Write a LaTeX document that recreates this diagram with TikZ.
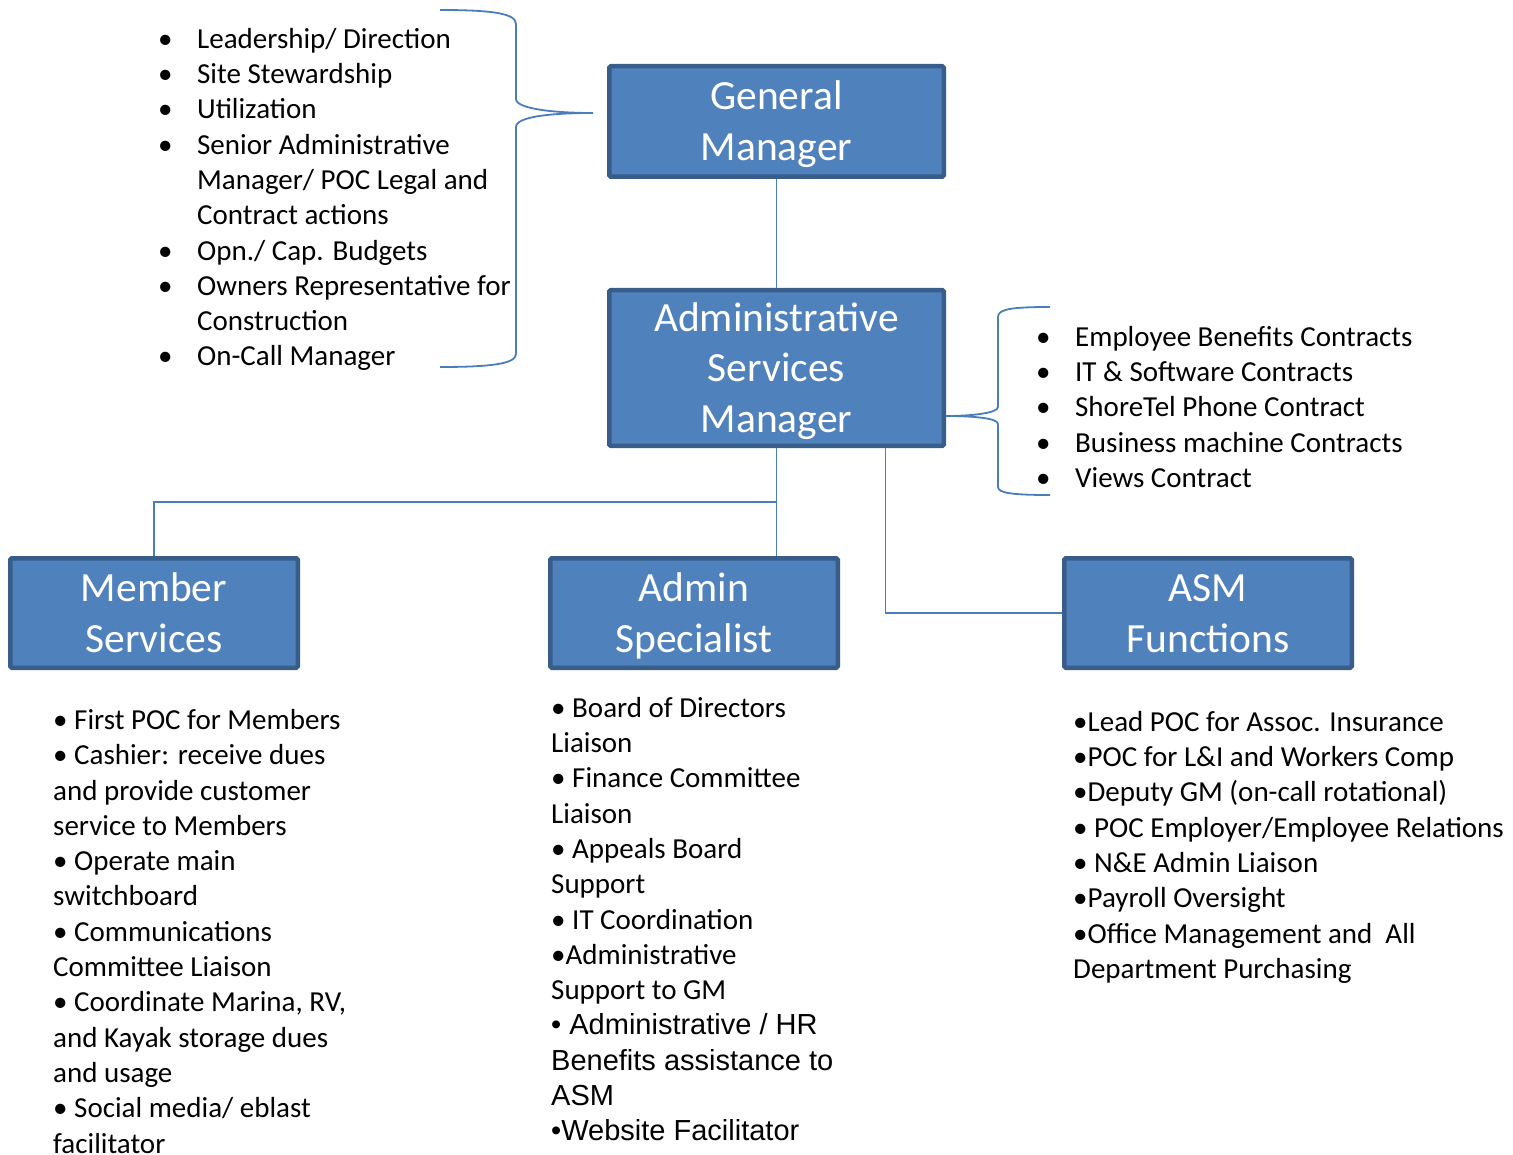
\documentclass[tikz,border=0pt]{standalone}
\usepackage{fontspec}
\setmainfont{Carlito}
\newfontfamily\arialfont{Liberation Sans}
\usepackage{tikz}
\usetikzlibrary{positioning,calc}
\definecolor{boxfill}{HTML}{4F81BD}
\definecolor{boxdraw}{HTML}{385D8A}
\definecolor{linkblue}{HTML}{4A7EBB}
\newcommand{\bul}{\makebox[39pt][l]{\textbullet}}
\newcommand{\ind}{\hspace*{39pt}}
\newcommand{\toprule}{\rule{0pt}{37.7pt}}
\newcommand{\botrule}{\rule[-10pt]{0pt}{10pt}}

\begin{document}
\begin{tikzpicture}[
        x=1pt, y=-1pt,
        role/.style={rectangle, rounded corners=1.5pt, draw=boxdraw, line width=4.5pt, fill=boxfill, text=white, align=center, font=\fontsize{41.5}{50.7}\selectfont},
        duties/.style={anchor=north west, inner sep=0pt, align=left, font=\fontsize{29}{35.3}\selectfont},
        link/.style={draw=linkblue, line width=1.8pt},
        brace/.style={draw=linkblue, line width=1.8pt},
    ]
    \useasboundingbox (0,0) rectangle (1513,1155);

    % Role boxes
    \node[role, minimum width=334.5pt, minimum height=110.5pt] (gm) at (776.5,121.5) {\toprule General\\Manager\botrule};
    \node[role, minimum width=334.5pt, minimum height=151.5pt] (asm) at (776.5,368) {\toprule Administrative\\Services\\Manager\botrule};
    \node[role, minimum width=287.5pt, minimum height=109.5pt] (member) at (154,613) {\toprule Member\\Services\botrule};
    \node[role, minimum width=287.5pt, minimum height=109.5pt] (spec) at (694,613) {\toprule Admin\\Specialist\botrule};
    \node[role, minimum width=287.5pt, minimum height=109.5pt] (func) at (1208,613) {\toprule ASM\\Functions\botrule};

    % Duty lists
    \node[duties] (gmlist) at (158,23.3) {\strut\bul Leadership/ Direction\\
        \bul Site Stewardship\\
        \bul Utilization\\
        \bul Senior Administrative\\
        \ind Manager/ POC Legal and\\
        \ind Contract actions\\
        \bul Opn./ Cap. Budgets\\
        \bul Owners Representative for\\
        \ind Construction\\
        \bul On-Call Manager};
    \node[duties] (asmlist) at (1036,321.3) {\strut\bul Employee Benefits Contracts\\
        \bul IT \& Software Contracts\\
        \bul ShoreTel Phone Contract\\
        \bul Business machine Contracts\\
        \bul Views Contract};
    \node[duties] (memberlist) at (53,704.5) {\strut\textbullet{} First POC for Members\\
        \textbullet{} Cashier: receive dues\\
        and provide customer\\
        service to Members\\
        \textbullet{} Operate main\\
        switchboard\\
        \textbullet{} Communications\\
        Committee Liaison\\
        \textbullet{} Coordinate Marina, RV,\\
        and Kayak storage dues\\
        and usage\\
        \textbullet{} Social media/ eblast\\
        facilitator};
    \node[duties] (speclist) at (551,692.3) {\strut\textbullet{} Board of Directors\\
        Liaison\\
        \textbullet{} Finance Committee\\
        Liaison\\
        \textbullet{} Appeals Board\\
        Support\\
        \textbullet{} IT Coordination\\
        \textbullet Administrative\\
        Support to GM\\
        {\arialfont\textbullet{} Administrative / HR}\\
        {\arialfont Benefits assistance to}\\
        {\arialfont ASM}\\
        {\arialfont\textbullet Website Facilitator}};
    \node[duties] (funclist) at (1073,706.3) {\strut\textbullet Lead POC for Assoc. Insurance\\
        \textbullet POC for L\&I and Workers Comp\\
        \textbullet Deputy GM (on-call rotational)\\
        \textbullet{} POC Employer/Employee Relations\\
        \textbullet{} N\&E Admin Liaison\\
        \textbullet Payroll Oversight\\
        \textbullet Office Management and\ \ All\\
        Department Purchasing};

    % Connectors
    \draw[link] (gm.south) -- (asm.north);
    \draw[link] (asm.south) -- ++(0,54) -| (member.north);
    \draw[link] (asm.south) -- (asm.south |- spec.north);
    \draw[link] ([xshift=109pt]asm.south) |- (func.west);

    % Braces
    \draw[brace] (440,10) .. controls (490,10) and (516,13) .. (516,24) -- (516,99)
        .. controls (516,109) and (555,113) .. (593,113)
        .. controls (555,113) and (516,116) .. (516,127) -- (516,354)
        .. controls (516,364) and (490,367) .. (440,367);
    \draw[brace] (1050,307) .. controls (1012,307) and (998,309) .. (998,317) -- (998,407)
        .. controls (998,413) and (972,416) .. (946,416)
        .. controls (972,416) and (998,418) .. (998,424) -- (998,487)
        .. controls (998,493) and (1012,495) .. (1050,495);
\end{tikzpicture}
\end{document}
